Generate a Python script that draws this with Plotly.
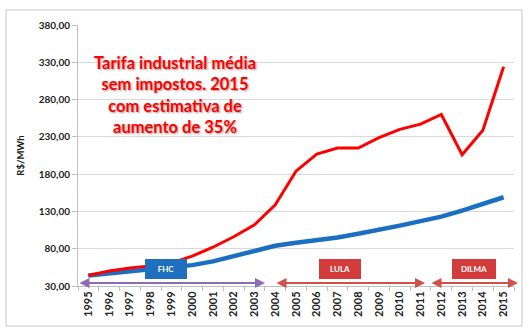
import plotly.graph_objects as go

years = [str(y) for y in range(1995, 2016)]
tarifa_red = [44, 50, 54, 57, 61, 70, 82, 96, 112, 139, 184, 207, 215, 215, 229, 240, 247, 260, 206, 239, 324]
tarifa_blue = [44, 47, 50, 52, 55, 58, 63, 70, 77, 84, 88, 91, 95, 100, 105, 111, 117, 123, 131, 140, 149]
y_ticks = [30, 80, 130, 180, 230, 280, 330, 380]

FONT = "Lato"
L, R, T, B = 78, 15, 25, 50
W, H = 529, 336
pw, ph = W - L - R, H - T - B

def px(x):
    return (x - L) / pw

def py(y):
    return (H - B - y) / ph

fig = go.Figure()
fig.add_trace(go.Scatter(x=years, y=tarifa_blue, mode="lines",
                         line=dict(color="#1a6fc0", width=4.5), showlegend=False))
fig.add_trace(go.Scatter(x=years, y=tarifa_red, mode="lines",
                         line=dict(color="#ff0000", width=3), showlegend=False))

fig.update_layout(
    width=W, height=H,
    margin=dict(l=L, r=R, t=T, b=B),
    paper_bgcolor="white", plot_bgcolor="white",
    separators=",.",
    font=dict(family=FONT, color="#222"),
    xaxis=dict(type="category", range=[-0.5, len(years) - 0.5], tickangle=-90, showgrid=False,
               showline=True, linecolor="#bfbfbf", ticks="outside", ticklen=4,
               tickcolor="#bfbfbf", tickson="boundaries",
               tickfont=dict(family=FONT, size=11, weight="bold", color="#222")),
    yaxis=dict(range=[30, 380], tickvals=y_ticks, tickformat=".2f",
               showgrid=True, gridcolor="#d9d9d9", showline=True, linecolor="#bfbfbf",
               ticks="outside", ticklen=5, tickcolor="#bfbfbf",
               tickfont=dict(family=FONT, size=10, weight="bold", color="#222"),
               zeroline=False,
               title=dict(text="R$/MWh", standoff=12,
                          font=dict(family=FONT, size=9.5, weight="bold", color="#222"))),
)

# outer frame
fig.add_shape(type="rect", xref="paper", yref="paper",
              x0=px(6), x1=px(522), y0=py(326), y1=py(10),
              line=dict(color="#c8c8c8", width=1), layer="below")

# title text
fig.add_annotation(
    text="Tarifa industrial média<br>sem impostos. 2015<br>com estimativa de<br>aumento de 35%",
    xref="paper", yref="paper", x=px(175), y=py(95), xanchor="center", yanchor="middle",
    showarrow=False,
    font=dict(family=FONT, size=16.5, weight="bold", color="#ff0000",
              shadow="1px 1px 2px #999"),
    align="center")

# period arrows
arrows = [
    (78, 265, "#8e6bb5"),
    (275, 425, "#d0504a"),
    (430, 518, "#d0504a"),
]
for x0, x1, c in arrows:
    fig.add_annotation(xref="paper", yref="paper", x=px(x1), y=py(283),
                       ax=x0 - x1, ay=0, axref="pixel", ayref="pixel",
                       text="", showarrow=True, arrowhead=2, startarrowhead=2,
                       arrowside="end+start", arrowsize=1, arrowwidth=2, arrowcolor=c)

# period labels
labels = [
    ("FHC", 166, "#1f6fbf"),
    ("LULA", 340, "#d43c3c"),
    ("DILMA", 474, "#d43c3c"),
]
for t, xc, c in labels:
    fig.add_annotation(xref="paper", yref="paper", x=px(xc), y=py(269),
                       xanchor="center", yanchor="middle",
                       text=t, showarrow=False, bgcolor=c, bordercolor=c,
                       borderpad=4, width=32 if t != "DILMA" else 34,
                       font=dict(family=FONT, size=8, weight="bold", color="white"))

fig.write_html("out.html")
